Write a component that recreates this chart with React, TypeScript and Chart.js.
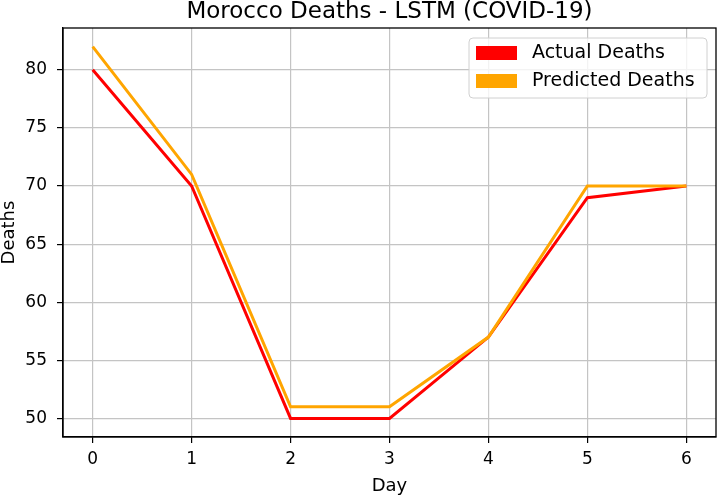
import React, { useEffect, useRef } from "react";
import { Chart, registerables } from "chart.js";

Chart.register(...registerables);

const TITLE = "Morocco Deaths - LSTM (COVID-19)";
const days = [0, 1, 2, 3, 4, 5, 6];
const actualDeaths = [80, 70, 50, 50, 57, 69, 70];
const predictedDeaths = [82, 71, 51, 51, 57, 70, 70];
const xTicks = [0, 1, 2, 3, 4, 5, 6];
const yTicks = [50, 55, 60, 65, 70, 75, 80];
const seriesNames = ["Actual Deaths", "Predicted Deaths"];
const seriesColors = ["#ff0000", "#ffa500"];

const FONT = "'DejaVu Sans', sans-serif";

const overlayPlugin = {
  id: "overlay",
  afterDatasetsDraw(chart: any) {
    const { ctx, chartArea } = chart;
    const { left, right, top, bottom } = chartArea;
    ctx.save();
    // frame (spines)
    ctx.strokeStyle = "#000";
    ctx.lineWidth = 1.3;
    ctx.strokeRect(left, top, right - left, bottom - top);

    // title
    ctx.fillStyle = "#000";
    ctx.font = `23px ${FONT}`;
    ctx.textAlign = "center";
    ctx.textBaseline = "alphabetic";
    ctx.fillText(TITLE, (left + right) / 2, 18);

    // legend
    const bx = right - 9 - 238;
    const by = top + 10;
    const bw = 238;
    const bh = 60;
    const r = 4;
    ctx.beginPath();
    ctx.moveTo(bx + r, by);
    ctx.lineTo(bx + bw - r, by);
    ctx.quadraticCurveTo(bx + bw, by, bx + bw, by + r);
    ctx.lineTo(bx + bw, by + bh - r);
    ctx.quadraticCurveTo(bx + bw, by + bh, bx + bw - r, by + bh);
    ctx.lineTo(bx + r, by + bh);
    ctx.quadraticCurveTo(bx, by + bh, bx, by + bh - r);
    ctx.lineTo(bx, by + r);
    ctx.quadraticCurveTo(bx, by, bx + r, by);
    ctx.closePath();
    ctx.fillStyle = "rgba(255,255,255,0.8)";
    ctx.fill();
    ctx.strokeStyle = "#d0d0d0";
    ctx.lineWidth = 1;
    ctx.stroke();

    ctx.font = `19px ${FONT}`;
    ctx.textAlign = "left";
    ctx.textBaseline = "middle";
    seriesNames.forEach((name, i) => {
      const cy = by + 15 + i * 28;
      ctx.fillStyle = seriesColors[i];
      ctx.fillRect(bx + 7, cy - 7, 41, 14);
      ctx.fillStyle = "#000";
      ctx.fillText(name, bx + 63, cy);
    });
    ctx.restore();
  },
};

export default function App() {
  const ref = useRef<HTMLCanvasElement>(null);
  useEffect(() => {
    if (!ref.current) return;
    const chart = new Chart(ref.current, {
      type: "line",
      data: {
        datasets: [
          {
            label: seriesNames[0],
            data: days.map((d, i) => ({ x: d, y: actualDeaths[i] })),
            borderColor: seriesColors[0],
            backgroundColor: seriesColors[0],
            borderWidth: 3,
            pointRadius: 0,
            tension: 0,
            order: 2,
          },
          {
            label: seriesNames[1],
            data: days.map((d, i) => ({ x: d, y: predictedDeaths[i] })),
            borderColor: seriesColors[1],
            backgroundColor: seriesColors[1],
            borderWidth: 3,
            pointRadius: 0,
            tension: 0,
            order: 1,
          },
        ],
      },
      options: {
        animation: false,
        responsive: false,
        maintainAspectRatio: false,
        layout: { padding: { top: 28, right: 2, left: 0, bottom: 0 } },
        plugins: {
          legend: { display: false },
          title: { display: false },
          tooltip: { enabled: false },
        },
        scales: {
          x: {
            type: "linear",
            min: -0.3,
            max: 6.3,
            offset: false,
            afterFit: (s: any) => {
              s.height = 58;
            },
            afterBuildTicks: (s: any) => {
              s.ticks = xTicks.map((v) => ({ value: v }));
            },
            grid: {
              color: "#c4c4c4",
              lineWidth: 1.2,
              drawTicks: true,
              tickLength: 6,
              tickColor: "#000",
              tickWidth: 1.2,
            },
            border: { display: true, color: "#000", width: 1.3 },
            ticks: {
              color: "#000",
              font: { family: FONT, size: 17 },
              padding: 6,
              maxRotation: 0,
              autoSkip: false,
            },
            title: {
              display: true,
              text: "Day",
              color: "#000",
              font: { family: FONT, size: 18, lineHeight: 1 },
              padding: { top: 1, bottom: 0 },
            },
          },
          y: {
            type: "linear",
            min: 48.4,
            max: 83.6,
            afterFit: (s: any) => {
              s.width = 63;
            },
            afterBuildTicks: (s: any) => {
              s.ticks = yTicks.map((v) => ({ value: v }));
            },
            grid: {
              color: "#c4c4c4",
              lineWidth: 1.2,
              drawTicks: true,
              tickLength: 6,
              tickColor: "#000",
              tickWidth: 1.2,
            },
            border: { display: true, color: "#000", width: 1.3 },
            ticks: {
              color: "#000",
              font: { family: FONT, size: 17 },
              padding: 10,
              autoSkip: false,
            },
            title: {
              display: true,
              text: "Deaths",
              color: "#000",
              font: { family: FONT, size: 18, lineHeight: 1 },
              padding: { top: 0, bottom: 0 },
            },
          },
        },
      },
      plugins: [overlayPlugin],
    });
    return () => chart.destroy();
  }, []);

  return (
    <div style={{ position: "fixed", left: 0, top: 0, width: 718, height: 495, background: "#fff" }}>
      <canvas ref={ref} width={718} height={495} style={{ display: "block", width: 718, height: 495 }} />
    </div>
  );
}
